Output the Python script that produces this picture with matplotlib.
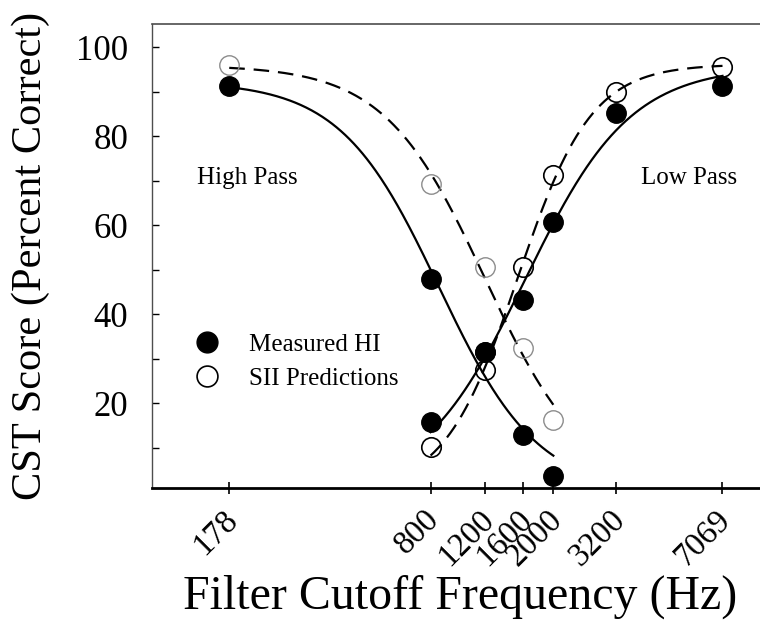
import numpy as np
import matplotlib
matplotlib.use('Agg')
import matplotlib.pyplot as plt
from matplotlib.ticker import FixedLocator, NullFormatter
from matplotlib.lines import Line2D
from matplotlib.transforms import ScaledTranslation

plt.rcParams['font.family'] = ['Liberation Serif', 'DejaVu Serif']

# filter cutoff frequencies (Hz)
freq_hp = [178, 800, 1200, 1600, 2000]
freq_lp = [800, 1200, 1600, 2000, 3200, 7069]
tick_freqs = [178, 800, 1200, 1600, 2000, 3200, 7069]

# CST scores, percent correct
measured_hp = [91.2, 47.9, 31.6, 12.9, 3.7]
measured_lp = [15.8, 31.6, 43.2, 60.7, 85.2, 91.2]
sii_hp = [96.0, 69.3, 50.6, 32.4, 16.3]
sii_lp = [10.2, 27.5, 50.6, 71.3, 89.9, 95.5]


def logistic_fit(freq, score):
    # y = top / (1 + exp(-k (log f - x0))), grid search on k, x0; top by least squares
    x = np.log10(freq)
    y = np.asarray(score, dtype=float)
    best = None
    ks = np.concatenate([np.linspace(-20, -0.5, 157), np.linspace(0.5, 20, 157)])
    for x0 in np.linspace(2.3, 3.9, 321):
        for k in ks:
            g = 1.0 / (1.0 + np.exp(-k * (x - x0)))
            top = np.dot(g, y) / np.dot(g, g)
            err = np.sum((top * g - y) ** 2)
            if best is None or err < best[0]:
                best = (err, x0, k, top)
    _, x0, k, top = best
    return lambda f: top / (1.0 + np.exp(-k * (np.log10(f) - x0)))


fig = plt.figure(figsize=(7.6, 6.27), dpi=100)
ax = fig.add_axes([0.2, 0.2217, 0.8118, 0.740])

# fitted curves
f_hp = np.geomspace(min(freq_hp), max(freq_hp), 300)
f_lp = np.geomspace(min(freq_lp), max(freq_lp), 300)
ax.plot(f_hp, logistic_fit(freq_hp, measured_hp)(f_hp), color='black', lw=1.6)
ax.plot(f_lp, logistic_fit(freq_lp, measured_lp)(f_lp), color='black', lw=1.6)
ax.plot(f_hp, logistic_fit(freq_hp, sii_hp)(f_hp), color='black', lw=1.6, dashes=(7, 4))
ax.plot(f_lp, logistic_fit(freq_lp, sii_lp)(f_lp), color='black', lw=1.6, dashes=(7, 4))

# data points
ax.plot(freq_hp, sii_hp, 'o', ms=14, mfc='none', mec='0.55', mew=1.0, clip_on=False)
ax.plot(freq_lp, sii_lp, 'o', ms=14, mfc='none', mec='black', mew=1.2, clip_on=False)
ax.plot(freq_hp, measured_hp, 'o', ms=14, color='black', clip_on=False)
ax.plot(freq_lp, measured_lp, 'o', ms=14, color='black', clip_on=False)

ax.set_xscale('log')
ax.set_xlim(100, 10000)
ax.set_ylim(1, 105.2)

ax.xaxis.set_major_locator(FixedLocator(tick_freqs))
ax.xaxis.set_minor_locator(FixedLocator([]))
ax.set_xticklabels([str(f) for f in tick_freqs], rotation=45, ha='right', va='center',
                   rotation_mode='anchor', fontsize=23.5)
ax.tick_params(axis='x', which='major', direction='inout', length=9, width=1.2, pad=15)
# nudge the slanted labels a little to the right of their ticks
shift = ScaledTranslation(3 / 72, 0, fig.dpi_scale_trans)
for lbl in ax.get_xticklabels():
    lbl.set_transform(lbl.get_transform() + shift)

ax.yaxis.set_major_locator(FixedLocator([20, 40, 60, 80, 100]))
ax.yaxis.set_minor_locator(FixedLocator([10, 30, 50, 70, 90]))
ax.yaxis.set_minor_formatter(NullFormatter())
ax.tick_params(axis='y', which='both', direction='in', length=5, width=1.0, labelsize=25, pad=17)

ax.spines['right'].set_visible(False)
ax.spines['bottom'].set_linewidth(2.0)
ax.spines['left'].set_linewidth(1.0)
ax.spines['left'].set_color('0.3')
ax.spines['top'].set_linewidth(1.2)
ax.spines['top'].set_color('0.3')

ax.set_xlabel('Filter Cutoff Frequency (Hz)', fontsize=34.5, labelpad=2)
ax.set_ylabel('CST Score (Percent Correct)', fontsize=30.5)
ax.yaxis.set_label_coords(-0.165, 0.5)

ax.text(0.154, 0.668, 'High Pass', transform=ax.transAxes, fontsize=18,
        ha='center', va='center')
ax.text(0.870, 0.668, 'Low Pass', transform=ax.transAxes, fontsize=18,
        ha='center', va='center')

handles = [Line2D([], [], ls='none', marker='o', ms=15, color='black'),
           Line2D([], [], ls='none', marker='o', ms=15, mfc='none', mec='black', mew=1.2)]
ax.legend(handles, ['Measured HI', 'SII Predictions'], loc='center left',
          bbox_to_anchor=(0.028, 0.272), frameon=False, fontsize=18,
          handlelength=1.2, handletextpad=1.1, labelspacing=0.45, borderpad=0.4)

fig.savefig('out.png', dpi=100)
